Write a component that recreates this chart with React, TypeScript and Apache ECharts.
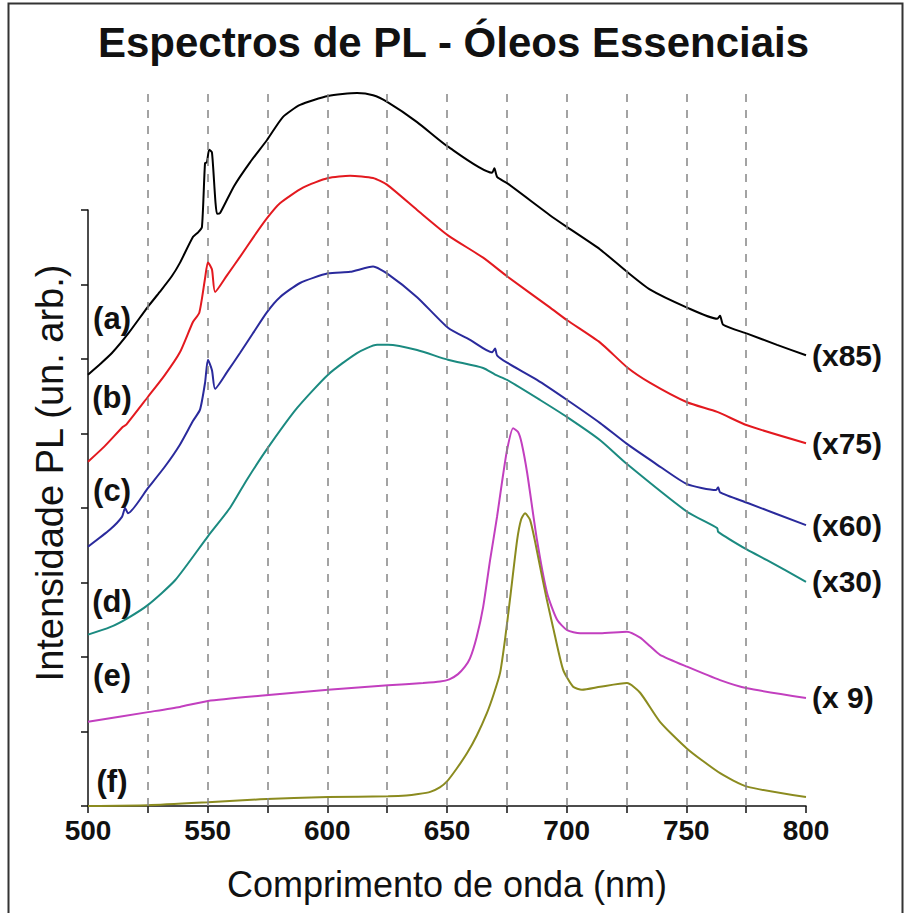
import React, { useEffect, useRef } from "react";
import * as echarts from "echarts";

// ---- axis / reference values ----
const xMin = 500;
const xMax = 800;
const xStep = 25;
const yMin = 0;
const yMax = 8;
const yStep = 1;
const dashedWavelengths = [525, 550, 575, 600, 625, 650, 675, 700, 725, 750, 775];

const curveLabels = ["(a)", "(b)", "(c)", "(d)", "(e)", "(f)"];
const scaleLabels = ["(x85)", "(x75)", "(x60)", "(x30)", "(x 9)", ""];

// ---- spectra: [wavelength nm, intensity (arb.)] ----
const dataA: [number, number][] = [
  [500, 5.79], [505, 5.93], [510, 6.08], [517, 6.35], [525, 6.7], [530, 6.9], [535, 7.11],
  [538.4, 7.29], [543.9, 7.64], [546, 7.7], [547.6, 7.77], [548.9, 8.63], [549.7, 8.64],
  [550.6, 8.81], [551.8, 8.77], [553.9, 7.95], [555.2, 7.96], [561, 8.32], [567.7, 8.64],
  [574.8, 8.94], [581.5, 9.25], [588.6, 9.41], [600.3, 9.53], [612.4, 9.57], [619.1, 9.54],
  [625, 9.45], [637.5, 9.18], [650.4, 8.85], [668.8, 8.5], [669.8, 8.56], [671, 8.44],
  [675.1, 8.36], [693, 7.93], [700.2, 7.77], [714, 7.47], [725.2, 7.17], [734.9, 6.93],
  [750.3, 6.69], [762.9, 6.54], [764.1, 6.58], [765.4, 6.46], [775.4, 6.34], [787.9, 6.19],
  [800, 6.05],
];
const dataB: [number, number][] = [
  [500, 4.62], [507, 4.83], [514.6, 5.09], [516, 5.12], [525, 5.49], [532, 5.78], [538.4, 6.09],
  [543.9, 6.5], [546.5, 6.62], [548.9, 7.08], [550.1, 7.3], [551.8, 7.2], [553.1, 6.9],
  [558, 7.12], [563.5, 7.37], [569, 7.63], [574.8, 7.89], [580.2, 8.09], [589.8, 8.3],
  [600.3, 8.43], [609.5, 8.46], [619.1, 8.43], [624.9, 8.34], [637.5, 8.0], [650.4, 7.66],
  [665.1, 7.36], [675.5, 7.1], [693.1, 6.69], [700.2, 6.52], [714, 6.22], [725.2, 5.89],
  [734.9, 5.68], [750.3, 5.42], [762.9, 5.29], [775.4, 5.11], [800, 4.87],
];
const dataC: [number, number][] = [
  [500, 3.48], [509.2, 3.71], [514.2, 3.88], [515.5, 4.0], [516.7, 3.93], [525.1, 4.27],
  [532, 4.55], [538.4, 4.85], [543.9, 5.17], [546.8, 5.32], [548.9, 5.68], [550.1, 5.99],
  [551.8, 5.85], [553.1, 5.6], [558, 5.82], [563.5, 6.08], [569, 6.35], [574.8, 6.63],
  [580.2, 6.83], [588.6, 7.02], [600.3, 7.15], [609.5, 7.17], [619.1, 7.24], [624.9, 7.15],
  [637.5, 6.83], [650.4, 6.42], [660, 6.25], [668.8, 6.09], [670.1, 6.14], [670.9, 6.05],
  [675.1, 5.95], [687.6, 5.72], [700.2, 5.45], [714, 5.14], [725.2, 4.86], [737, 4.6],
  [750.3, 4.32], [762.4, 4.24], [763.3, 4.28], [764.1, 4.21], [775.4, 4.07], [800, 3.77],
];
const dataD: [number, number][] = [
  [500, 2.3], [509.2, 2.4], [517, 2.53], [525.1, 2.7], [536.4, 3.03], [550.1, 3.62],
  [559.3, 4.0], [566.4, 4.38], [575.2, 4.81], [587.3, 5.34], [600.3, 5.79], [612.4, 6.08],
  [620.8, 6.19], [625.4, 6.19], [637.5, 6.12], [650.4, 5.99], [665.1, 5.88], [670.1, 5.79],
  [675.1, 5.72], [688.9, 5.45], [700.2, 5.22], [714, 4.91], [725.2, 4.59], [750.3, 3.95],
  [762.9, 3.73], [763.3, 3.68], [775.4, 3.44], [783.7, 3.3], [800, 3.01],
];
const dataE: [number, number][] = [
  [500, 1.13], [525.1, 1.26], [538.4, 1.33], [550.1, 1.41], [571.9, 1.48], [600.3, 1.56],
  [625.4, 1.62], [640, 1.65], [647.1, 1.67], [651, 1.7], [654.6, 1.77], [657.5, 1.87],
  [659.6, 1.98], [662.4, 2.27], [665.1, 2.67], [668, 3.3], [670.9, 3.88], [673, 4.35],
  [675.1, 4.78], [677.6, 5.07], [679.7, 5.02], [681.2, 4.87], [683.5, 4.47], [687.6, 3.57],
  [691.8, 2.86], [696, 2.5], [700.2, 2.36], [705.6, 2.32], [714, 2.32], [725.2, 2.34],
  [730.7, 2.26], [735, 2.14], [739, 2.03], [750.3, 1.87], [764.1, 1.69], [775.4, 1.58],
  [800, 1.45],
];
const dataF: [number, number][] = [
  [500, 0.0], [525.1, 0.01], [550.1, 0.05], [571.9, 0.09], [600.3, 0.12], [625.4, 0.13],
  [633, 0.14], [638, 0.16], [643, 0.19], [647, 0.25], [650, 0.33], [654, 0.5], [658.4, 0.71],
  [662.5, 0.95], [666.7, 1.25], [669.5, 1.5], [672.2, 1.79], [674.3, 2.25], [676.3, 2.77],
  [679.3, 3.57], [681, 3.85], [682.6, 3.93], [684.7, 3.84], [686.8, 3.55], [688.9, 3.21],
  [691.5, 2.8], [694.3, 2.4], [698.5, 1.83], [702.7, 1.6], [706.4, 1.56], [714, 1.6],
  [725.2, 1.65], [730.7, 1.52], [739, 1.13], [750.3, 0.77], [764.1, 0.44], [775.4, 0.26],
  [800, 0.12],
];

const allData = [dataA, dataB, dataC, dataD, dataE, dataF];
const colors = ["#000000", "#e3191f", "#2a2a9c", "#1b8a80", "#c23fbf", "#8b8b1f"];

const FONT = "'Liberation Sans', Arial, Helvetica, sans-serif";

// label placements (pixel layout)
const curveLabelY = [318, 397, 490, 601, 675, 781];

export default function App() {
  const ref = useRef<HTMLDivElement>(null);

  useEffect(() => {
    document.body.style.margin = "0";
    if (!ref.current) return;
    const chart = echarts.init(ref.current, undefined, { renderer: "svg" });

    const gridLeft = 88;
    const gridRight = 101;
    const gridBottom = 107;

    const series: any[] = [
      {
        type: "line",
        xAxisIndex: 1,
        yAxisIndex: 1,
        data: [],
        silent: true,
        z: 1,
        markLine: {
          silent: true,
          symbol: ["none", "none"],
          label: { show: false },
          animation: false,
          lineStyle: { color: "#858585", type: [8, 8], width: 1.5 },
          data: dashedWavelengths.map((v) => ({ xAxis: v })),
        },
      },
    ];

    allData.forEach((d, i) => {
      series.push({
        type: "line",
        name: curveLabels[i],
        data: d,
        xAxisIndex: 0,
        yAxisIndex: 0,
        showSymbol: false,
        smooth: 0.2,
        clip: false,
        z: 3,
        lineStyle: { color: colors[i], width: 2 },
        itemStyle: { color: colors[i] },
        endLabel: scaleLabels[i]
          ? {
              show: true,
              formatter: scaleLabels[i],
              fontSize: 30,
              fontWeight: "bold",
              fontFamily: FONT,
              color: "#111",
              distance: 6,
            }
          : { show: false },
      });
    });

    const graphics: any[] = [
      {
        type: "rect",
        shape: { x: 8.5, y: 3.5, width: 894, height: 930 },
        style: { fill: "none", stroke: "#333", lineWidth: 2 },
        silent: true,
        z: 0,
      },
      {
        type: "text",
        x: 50,
        y: 473,
        rotation: Math.PI / 2,
        style: {
          text: "Intensidade PL (un. arb.)",
          fontSize: 38,
          fontFamily: FONT,
          fill: "#111",
          align: "center",
          verticalAlign: "middle",
          textAlign: "center",
          textVerticalAlign: "middle",
        },
      },
    ];
    curveLabels.forEach((t, i) => {
      graphics.push({
        type: "text",
        x: 112,
        y: curveLabelY[i],
        style: {
          text: t,
          fontSize: 31,
          fontWeight: "bold",
          fontFamily: FONT,
          fill: "#111",
          align: "center",
          verticalAlign: "middle",
          textAlign: "center",
          textVerticalAlign: "middle",
        },
      });
    });

    chart.setOption({
      animation: false,
      backgroundColor: "#ffffff",
      title: {
        text: "Espectros de PL - Óleos Essenciais",
        left: "center",
        top: 16,
        textStyle: { fontSize: 42, fontWeight: "bold", fontFamily: FONT, color: "#111" },
      },
      grid: [
        { left: gridLeft, right: gridRight, top: 210, bottom: gridBottom },
        { left: gridLeft, right: gridRight, top: 88, bottom: gridBottom },
      ],
      xAxis: [
        {
          type: "value",
          gridIndex: 0,
          min: xMin,
          max: xMax,
          interval: xStep,
          name: "Comprimento de onda (nm)",
          nameLocation: "middle",
          nameGap: 60,
          nameTextStyle: { fontSize: 36, fontFamily: FONT, color: "#111" },
          axisLine: { show: true, lineStyle: { color: "#111", width: 1.5 } },
          axisTick: { show: true, inside: false, length: 7, lineStyle: { color: "#111", width: 1.5 } },
          axisLabel: {
            show: true,
            margin: 10,
            fontSize: 28,
            fontWeight: "bold",
            fontFamily: FONT,
            color: "#111",
            formatter: (v: number) => (v % 50 === 0 ? String(v) : ""),
          },
          splitLine: { show: false },
        },
        { type: "value", gridIndex: 1, min: xMin, max: xMax, show: false },
      ],
      yAxis: [
        {
          type: "value",
          gridIndex: 0,
          min: yMin,
          max: yMax,
          interval: yStep,
          axisLine: { show: true, lineStyle: { color: "#111", width: 1.5 } },
          axisTick: { show: true, inside: false, length: 7, lineStyle: { color: "#111", width: 1.5 } },
          axisLabel: { show: false },
          splitLine: { show: false },
        },
        { type: "value", gridIndex: 1, min: 0, max: 1, show: false },
      ],
      series,
      graphic: graphics,
    });

    return () => {
      chart.dispose();
    };
  }, []);

  return <div ref={ref} style={{ width: 907, height: 913 }} />;
}
